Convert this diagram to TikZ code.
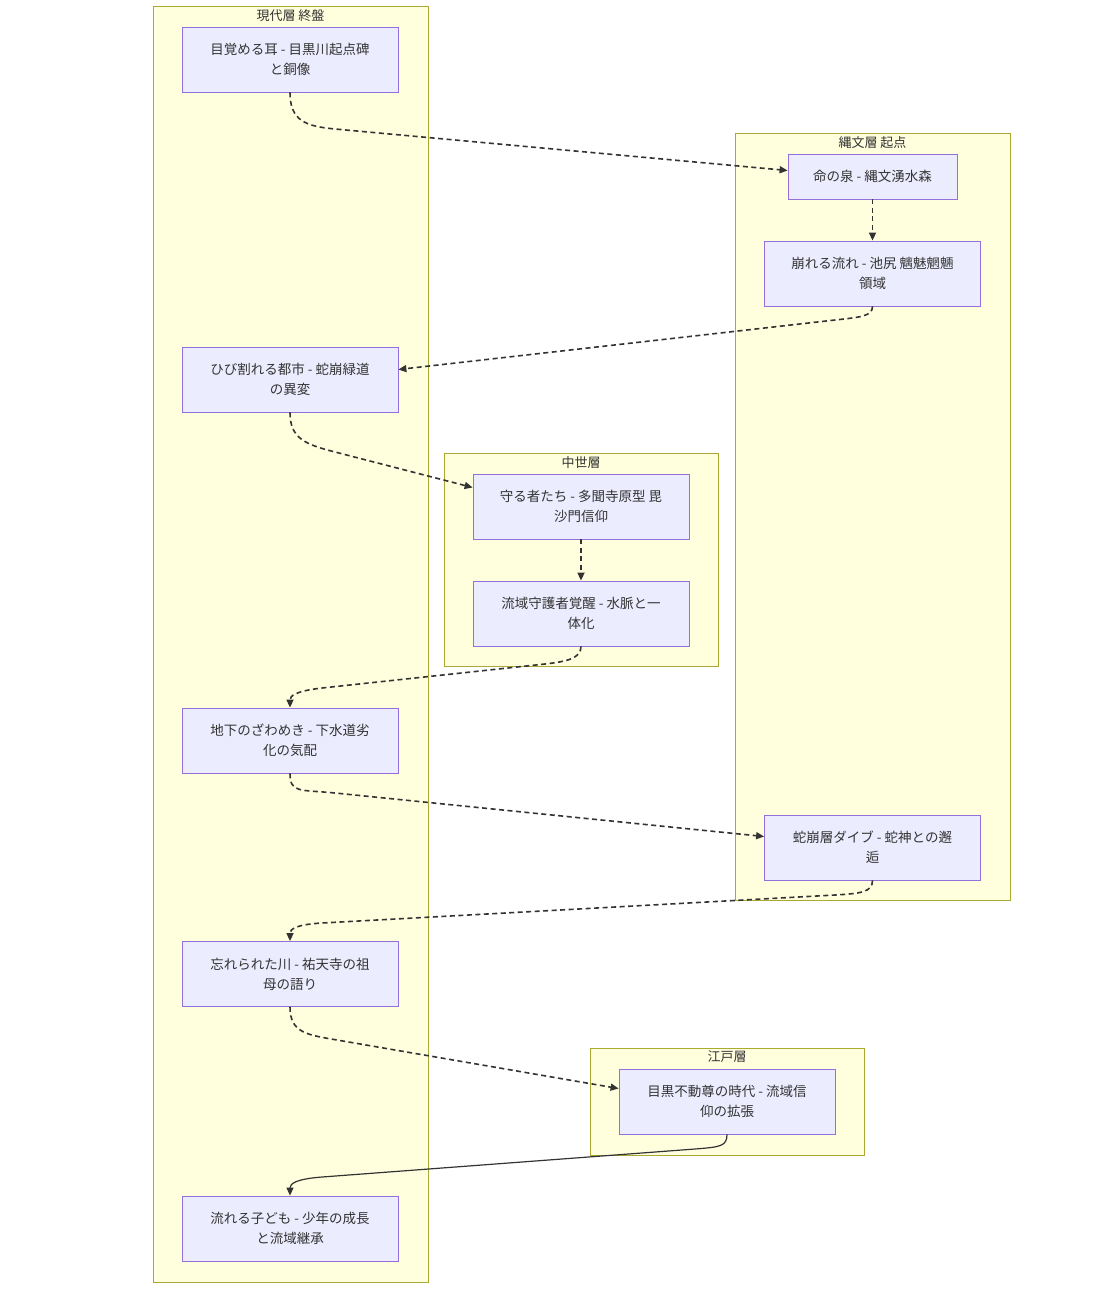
\documentclass[tikz,border=0pt]{standalone}
\usepackage{fontspec}
\setmainfont{Noto Sans CJK JP}
\usetikzlibrary{arrows.meta}
\definecolor{clfill}{HTML}{FFFFDE}
\definecolor{cldraw}{HTML}{AAAA33}
\definecolor{ndfill}{HTML}{ECECFF}
\definecolor{nddraw}{HTML}{9370DB}
\definecolor{txt}{HTML}{333333}
\tikzset{
  cluster/.style={fill=clfill, draw=cldraw, line width=0.8pt},
  cllabel/.style={text=txt, font=\fontsize{13}{16}\selectfont, inner sep=0pt},
  box/.style={fill=ndfill, draw=nddraw, line width=0.8pt, text=txt, align=center,
     font=\fontsize{13.5}{20}\selectfont, minimum width=216pt, minimum height=65pt, inner sep=0pt},
  flow/.style={draw=txt, line width=1.6pt, dash pattern=on 5pt off 3.5pt, -{Triangle[length=8pt,width=7pt]}},
  solidflow/.style={draw=txt, line width=1.2pt, -{Triangle[length=8pt,width=7pt]}}
}
\begin{document}
\begin{tikzpicture}[x=1pt,y=-1pt]
\useasboundingbox[fill=white] (0,0) rectangle (1101,1295);
% clusters
\draw[cluster] (153,6) rectangle (428,1282);
\node[cllabel] (c1) at (290.5,16) {現代層 終盤};
\draw[cluster] (735,133) rectangle (1010,900);
\node[cllabel] (c2) at (872.5,143) {縄文層 起点};
\draw[cluster] (444,453) rectangle (718,666);
\node[cllabel] (c3) at (581,463) {中世層};
\draw[cluster] (590,1048) rectangle (864,1155);
\node[cllabel] (c4) at (727,1057) {江戸層};
% nodes
\node[box] (A) at (290,59.5) {目覚める耳 - 目黒川起点碑\\と銅像};
\node[box, minimum width=169pt, minimum height=45pt] (B) at (872.5,176.5) {命の泉 - 縄文湧水森};
\node[box] (C) at (872.5,273.5) {崩れる流れ - 池尻 魑魅魍魎\\領域};
\node[box] (D) at (290,379.5) {ひび割れる都市 - 蛇崩緑道\\の異変};
\node[box] (E) at (581,506.5) {守る者たち - 多聞寺原型 毘\\沙門信仰};
\node[box] (F) at (581,613.5) {流域守護者覚醒 - 水脈と一\\体化};
\node[box] (G) at (290,740.5) {地下のざわめき - 下水道劣\\化の気配};
\node[box] (H) at (872.5,847.5) {蛇崩層ダイブ - 蛇神との邂\\逅};
\node[box] (I) at (290,974) {忘れられた川 - 祐天寺の祖\\母の語り};
\node[box] (J) at (727,1101.5) {目黒不動尊の時代 - 流域信\\仰の拡張};
\node[box] (K) at (290,1228.5) {流れる子ども - 少年の成長\\と流域継承};
% edges
\draw[flow] (A.south) .. controls +(0,28) and +(-30,-2.75) .. (335,129) -- ([yshift=6pt]B.west);
\draw[flow] (B.south) -- (C.north);
\draw[flow] (C.south) .. controls +(0,10) and +(25,-2.8) .. (835,320) -- ([yshift=10pt]D.east);
\draw[flow] (D.south) .. controls +(0,26) and +(-30,-7.7) .. (335,452) -- ([yshift=19pt]E.west);
\draw[flow] (E.south) -- (F.north);
\draw[flow] (F.south) .. controls +(0,12) and +(22,-2.5) .. (545,664) -- (322,688) .. controls +(-26,3) and +(0,-12) .. (G.north);
\draw[flow] (G.south) .. controls +(0,20) and +(-35,-3.5) .. (335,793) -- ([yshift=11pt]H.west);
\draw[flow] (H.south) .. controls +(0,12) and +(25,-1.5) .. (835,895) -- (322,923) .. controls +(-26,1.5) and +(0,-12) .. (I.north);
\draw[flow] (I.south) .. controls +(0,26) and +(-30,-5.2) .. (337,1040) -- ([yshift=13pt]J.west);
\draw[solidflow] (J.south) .. controls +(0,12) and +(25,-2) .. (695,1149) -- (322,1177) .. controls +(-26,2) and +(0,-12) .. (K.north);
\end{tikzpicture}
\end{document}
